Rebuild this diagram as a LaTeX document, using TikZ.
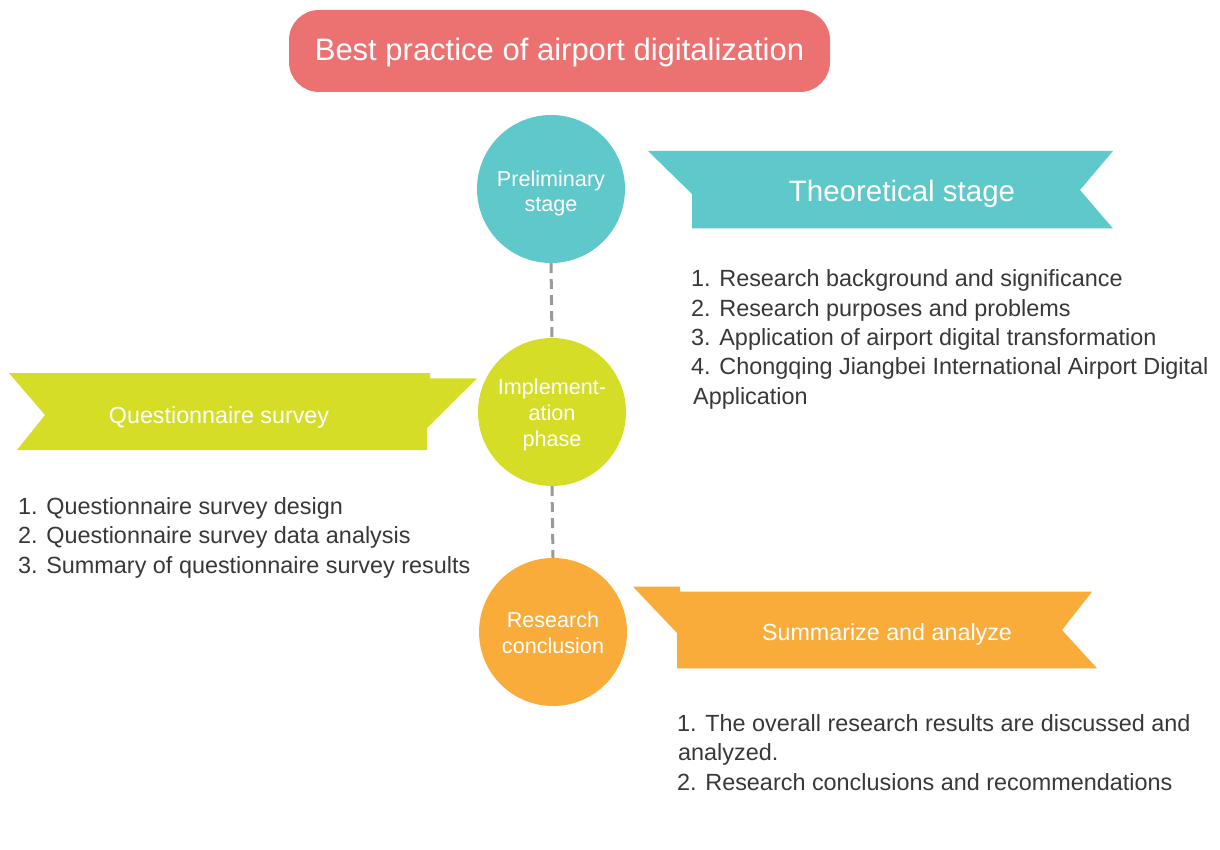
\documentclass[tikz,border=0pt]{standalone}
\usepackage{fontspec}
\setmainfont{Liberation Sans}
\definecolor{titlered}{HTML}{EC7171}
\definecolor{teal}{HTML}{5FC8CB}
\definecolor{lime}{HTML}{D5DD26}
\definecolor{amber}{HTML}{FAAC3A}
\definecolor{listgray}{HTML}{383838}
\definecolor{dashgray}{HTML}{9A9A9A}
\begin{document}
\begin{tikzpicture}[x=1pt,y=-1pt,
  whitetext/.style={inner sep=0, anchor=base, text=white},
  item/.style={inner sep=0, anchor=base west, text=listgray,
    font=\fontsize{23.4}{28}\selectfont},
  stagedot/.style={circle, inner sep=0, minimum size=148pt},
  dotlabel/.style={whitetext, font=\fontsize{21.6}{26}\selectfont},
  bannerlabel/.style={whitetext, font=\fontsize{23.3}{28}\selectfont},
  linkline/.style={draw=dashgray, line width=3pt, dash pattern=on 10pt off 6pt}]
\useasboundingbox (0,0) rectangle (1220,850);

% title
\node[fill=titlered, rounded corners=30pt, minimum width=541pt,
  minimum height=82pt, inner sep=0] (title) at (559.5,51) {};
\node[whitetext, font=\fontsize{31}{36}\selectfont] (titletext) at (559.5,61)
  {Best practice of airport digitalization};

% stage circles
\node[stagedot, fill=teal] (pre) at (551,189) {};
\node[stagedot, fill=lime] (imp) at (552,412) {};
\node[stagedot, fill=amber] (con) at (553,632) {};
\draw[linkline] (pre.south) -- (imp.north);
\draw[linkline] (imp.south) -- (con.north);

\node[dotlabel] (pre1) at (551,187) {Preliminary};
\node[dotlabel] (pre2) at (551,212) {stage};
\node[dotlabel] (imp1) at (552,394) {Implement-};
\node[dotlabel] (imp2) at (552,420) {ation};
\node[dotlabel] (imp3) at (552,446) {phase};
\node[dotlabel] (con1) at (553,627) {Research};
\node[dotlabel] (con2) at (553,653) {conclusion};

% ribbons
\fill[teal] (648,151) -- (1113,151) -- (1080,190) -- (1113,228.5)
  -- (692,228.5) -- (692,194) -- cycle;
\node[whitetext, font=\fontsize{29.5}{34}\selectfont] (theo) at (902,202)
  {Theoretical stage};

\fill[lime] (9,373) -- (430,373) -- (430,378.3) -- (477,378.3)
  -- (427,428) -- (427,450) -- (17,450) -- (45,415) -- cycle;
\node[bannerlabel] (quest) at (219,423) {Questionnaire survey};

\fill[amber] (633,586.7) -- (680,586.7) -- (680,591.7) -- (1092,591.7)
  -- (1062,630) -- (1097,668.3) -- (677,668.3) -- (677,633) -- cycle;
\node[bannerlabel] (summ) at (887,640) {Summarize and analyze};

% theoretical stage items
\node[item] (t1) at (691,287) {1. Research background and significance};
\node[item] (t2) at (691,316.3) {2. Research purposes and problems};
\node[item] (t3) at (691,345.6) {3. Application of airport digital transformation};
\node[item] (t4) at (691,374.9) {4. Chongqing Jiangbei International Airport Digital};
\node[item] (t5) at (693,404.2) {Application};

% questionnaire items
\node[item] (q1) at (18,514) {1. Questionnaire survey design};
\node[item] (q2) at (18,543.5) {2. Questionnaire survey data analysis};
\node[item] (q3) at (18,573) {3. Summary of questionnaire survey results};

% conclusion items
\node[item] (s1) at (677,731) {1. The overall research results are discussed and};
\node[item] (s2) at (678,760.5) {analyzed.};
\node[item] (s3) at (677,790) {2. Research conclusions and recommendations};
\end{tikzpicture}
\end{document}
